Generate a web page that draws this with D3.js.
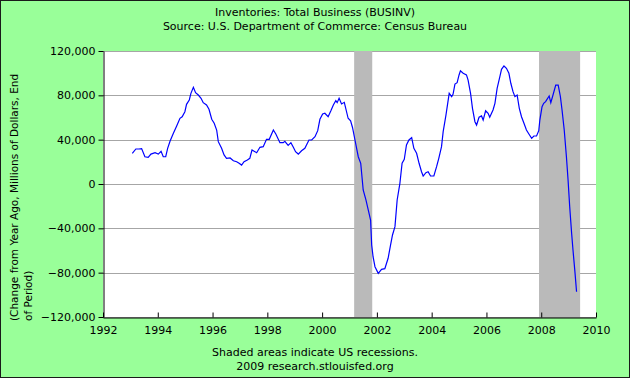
<!DOCTYPE html>
<html>
<head>
<meta charset="utf-8">
<script src="https://cdn.jsdelivr.net/npm/d3@7"></script>
<style>
  body { margin: 0; background: #fff; }
  svg text { font-family: "DejaVu Sans", Verdana, sans-serif; font-size: 11px; fill: #000; }
  svg text.ylabel { font-size: 10.5px; }
</style>
</head>
<body>
<svg id="chart" width="630" height="378"></svg>
<script>

// Series: decimal year, change from year ago (millions of $)
const years = [
  1993.07, 1993.20, 1993.31, 1993.41, 1993.53, 1993.65, 1993.75, 1993.90, 1994.02, 1994.12,
  1994.20, 1994.29, 1994.36, 1994.45, 1994.57, 1994.69, 1994.81, 1994.89, 1994.99, 1995.05,
  1995.15, 1995.21, 1995.30, 1995.38, 1995.48, 1995.58, 1995.66, 1995.78, 1995.87, 1995.97,
  1996.06, 1996.15, 1996.21, 1996.33, 1996.42, 1996.51, 1996.64, 1996.76, 1996.88, 1996.97,
  1997.06, 1997.15, 1997.27, 1997.36, 1997.44, 1997.61, 1997.73, 1997.85, 1997.97, 1998.07,
  1998.22, 1998.31, 1998.46, 1998.58, 1998.64, 1998.76, 1998.86, 1998.95, 1999.03, 1999.13,
  1999.25, 1999.37, 1999.52, 1999.62, 1999.74, 1999.84, 1999.92, 2000.02, 2000.10, 2000.22,
  2000.32, 2000.41, 2000.50, 2000.55, 2000.62, 2000.71, 2000.81, 2000.95, 2001.04, 2001.11,
  2001.20, 2001.32, 2001.41, 2001.50, 2001.60, 2001.68, 2001.77, 2001.81, 2001.86, 2001.93,
  2002.05, 2002.17, 2002.29, 2002.41, 2002.50, 2002.57, 2002.66, 2002.74, 2002.84, 2002.92,
  2003.00, 2003.08, 2003.17, 2003.27, 2003.35, 2003.45, 2003.54, 2003.63, 2003.69, 2003.79,
  2003.87, 2003.96, 2004.08, 2004.18, 2004.26, 2004.36, 2004.42, 2004.52, 2004.64, 2004.73,
  2004.78, 2004.85, 2004.93, 2005.00, 2005.05, 2005.15, 2005.27, 2005.33, 2005.42, 2005.49,
  2005.58, 2005.64, 2005.73, 2005.82, 2005.88, 2005.97, 2006.06, 2006.12, 2006.24, 2006.31,
  2006.39, 2006.49, 2006.55, 2006.64, 2006.73, 2006.82, 2006.89, 2006.97, 2007.04, 2007.12,
  2007.20, 2007.28, 2007.37, 2007.46, 2007.55, 2007.65, 2007.73, 2007.83, 2007.91, 2007.95,
  2008.03, 2008.09, 2008.16, 2008.29, 2008.35, 2008.43, 2008.53, 2008.62, 2008.70, 2008.76,
  2008.84, 2008.92, 2008.98, 2009.04, 2009.11, 2009.16, 2009.23, 2009.29
];

const change = [
  27700, 31600, 31600, 31900, 24600, 24000, 27000, 28200, 27000, 29500,
  24600, 24600, 32200, 38800, 45700, 52300, 59300, 60700, 65200, 71900,
  75800, 81800, 87200, 82400, 80300, 77300, 73400, 71300, 67400, 58400,
  54800, 48700, 38200, 32200, 26200, 23200, 23500, 21000, 20100, 18700,
  17100, 20100, 21700, 23200, 30700, 28200, 33100, 33700, 40300, 40300,
  48700, 45100, 37300, 37300, 38500, 34900, 37300, 33100, 29100, 27000,
  30000, 32200, 39700, 39700, 42700, 48100, 58400, 63200, 63800, 60700,
  66100, 71300, 75200, 73400, 77300, 72200, 73700, 59300, 57100, 51000,
  39700, 24600, 18700, -5400, -14400, -22800, -32500, -55000, -65600, -74600,
  -80600, -77000, -76400, -67000, -55000, -46000, -38500, -14400, 600, 18700,
  22300, 35200, 39700, 41800, 32200, 27700, 18700, 11100, 7200, 10200,
  11100, 7200, 7200, 15600, 23200, 33700, 47200, 62000, 81800, 78800,
  80900, 90200, 91400, 98400, 102200, 99900, 98400, 93800, 81800, 68300,
  56200, 53200, 60200, 61400, 57700, 66100, 63800, 60200, 66800, 72800,
  86300, 96800, 103500, 106500, 104400, 99900, 90900, 83300, 78800, 80300,
  68300, 60700, 54800, 48700, 45100, 41200, 43300, 43300, 48100, 57700,
  69700, 72800, 74300, 79400, 73400, 80300, 89300, 89300, 78800, 66800,
  48700, 24600, 3600, -20500, -44500, -59600, -79100, -97200
];

// US recessions (start, end) as decimal years
const recessionStart = [2001.17, 2007.92];
const recessionEnd = [2001.83, 2009.42];

const yTicks = [-120000, -80000, -40000, 0, 40000, 80000, 120000];
const xTicks = [1992, 1994, 1996, 1998, 2000, 2002, 2004, 2006, 2008, 2010];

const titleLines = ["Inventories: Total Business (BUSINV)",
                    "Source: U.S. Department of Commerce: Census Bureau"];
const yLabelLines = ["(Change from Year Ago, Millions of Dollars, End", "of Period)"];
const footerLines = ["Shaded areas indicate US recessions.", "2009 research.stlouisfed.org"];


const W = 630, H = 378;
const plot = { left: 103, right: 596, top: 51, bottom: 317 };

let svg = d3.select("#chart");

// background + frame
svg.append("rect")
    .attr("x", 0.5).attr("y", 0.5)
    .attr("width", W - 1).attr("height", H - 1)
    .attr("fill", "#99ff99")
    .attr("stroke", "#1a1a1a");

let x = d3.scaleLinear().domain([1992, 2010]).range([plot.left, plot.right]);
let y = d3.scaleLinear().domain([-120000, 120000]).range([plot.bottom, plot.top]);

svg.append("rect")
    .attr("x", plot.left).attr("y", plot.top)
    .attr("width", plot.right - plot.left).attr("height", plot.bottom - plot.top)
    .attr("fill", "#fff");

// grid
svg.append("g")
    .selectAll("line")
    .data(yTicks)
    .enter()
    .append("line")
    .attr("x1", plot.left).attr("x2", plot.right)
    .attr("y1", d => Math.round(y(d)) + 0.5)
    .attr("y2", d => Math.round(y(d)) + 0.5)
    .attr("stroke", "#a6a6a6");

// recession bands (drawn over the grid)
svg.append("g")
    .selectAll("rect")
    .data(recessionStart.map((s, i) => [s, recessionEnd[i]]))
    .enter()
    .append("rect")
    .attr("x", d => x(d[0]))
    .attr("width", d => x(d[1]) - x(d[0]))
    .attr("y", plot.top)
    .attr("height", plot.bottom - plot.top)
    .attr("fill", "#bababa");

// series
let line = d3.line()
    .x((d, i) => x(years[i]))
    .y(d => y(d));

svg.append("path")
    .datum(change)
    .attr("d", line)
    .attr("fill", "none")
    .attr("stroke", "#0000ff")
    .attr("stroke-width", 1.2);

// axes
let yAxis = d3.axisLeft(y)
    .tickValues(yTicks)
    .tickFormat(d3.format(","))
    .tickSizeInner(5)
    .tickSizeOuter(0)
    .tickPadding(3);

svg.append("g")
    .attr("transform", `translate(${plot.left + 0.5},0)`)
    .call(yAxis);

let xAxis = d3.axisBottom(x)
    .tickValues(xTicks)
    .tickFormat(d3.format("d"))
    .tickSizeInner(-5)
    .tickSizeOuter(0)
    .tickPadding(9);

svg.append("g")
    .attr("transform", `translate(0,${plot.bottom + 0.5})`)
    .call(xAxis);

svg.selectAll(".domain").attr("stroke", "#000");
svg.selectAll(".tick line").attr("stroke", "#000");
svg.selectAll("g text").attr("font-family", null).attr("font-size", null);

// titles
svg.append("g")
    .selectAll("text")
    .data(titleLines)
    .enter()
    .append("text")
    .attr("x", W / 2)
    .attr("y", (d, i) => 16 + i * 14)
    .attr("text-anchor", "middle")
    .text(d => d);

svg.append("g")
    .selectAll("text")
    .data(footerLines)
    .enter()
    .append("text")
    .attr("x", W / 2)
    .attr("y", (d, i) => 356 + i * 14)
    .attr("text-anchor", "middle")
    .text(d => d);

// rotated y label, two lines anchored at the bottom
svg.append("g")
    .selectAll("text")
    .data(yLabelLines)
    .enter()
    .append("text")
    .attr("class", "ylabel")
    .attr("transform", (d, i) => `translate(${18 + i * 14},321) rotate(-90)`)
    .attr("text-anchor", "start")
    .text(d => d);

</script>
</body>
</html>
